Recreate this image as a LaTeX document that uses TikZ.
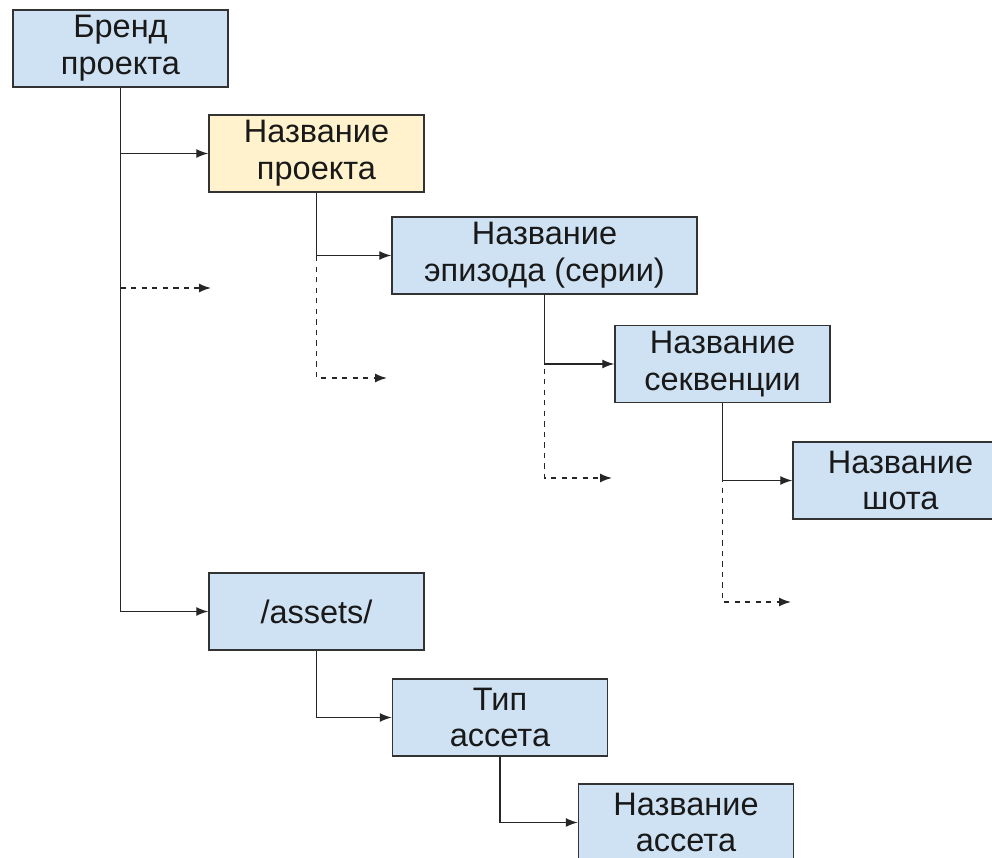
\documentclass[tikz,border=0pt]{standalone}
\usepackage{fontspec}
\setmainfont{Liberation Sans}
\usetikzlibrary{arrows.meta}
\definecolor{boxblue}{HTML}{CFE2F3}
\definecolor{projyellow}{HTML}{FFF2CC}
\definecolor{edge}{HTML}{333333}

\begin{document}
\begin{tikzpicture}[x=0.02cm,y=-0.02cm,
		box/.style={draw=edge,line width=0.85pt,fill=boxblue,minimum width=4.3cm,minimum height=1.54cm,inner sep=0pt,align=center,text=black!90,font=\fontsize{18.5}{21}\selectfont},
		link/.style={line width=0.8pt,draw=black!85,-{Latex[length=2.4mm,width=1.8mm]}},
		dlink/.style={link,dashed}]
		\useasboundingbox (0,0) rectangle (992,858);
		
		\node[box] (brand) at (120.5,48.5) {Бренд\\проекта};
		\node[box,fill=projyellow] (proj) at (316.5,153.5) {Название\\проекта};
		\node[box,minimum width=6.1cm] (ep) at (544.5,255.5) {Название\\эпизода (серии)};
		\node[box] (seq) at (722.5,364) {Название\\секвенции};
		\node[box] (shot) at (900.5,480.5) {Название\\шота};
		\node[box] (assets) at (316.5,611.5) {/assets/};
		\node[box] (type) at (500,717.5) {Тип\\ассета};
		\node[box] (aname) at (686,822.5) {Название\\ассета};
		
		\coordinate (d1) at (211,288);
		\coordinate (d2) at (387,378);
		\coordinate (d3) at (612,478);
		\coordinate (d4) at (791,602);
		
		\draw[dlink] (brand) |- (d1);
		\draw[dlink] (proj) |- (d2);
		\draw[dlink] (ep) |- (d3);
		\draw[dlink] (seq) |- (d4);
		
		\draw[link] (brand) |- (proj);
		\draw[link] (brand) |- (assets);
		\draw[link] (proj) |- (ep);
		\draw[link] (ep) |- (seq);
		\draw[link] (seq) |- (shot);
		\draw[link] (assets) |- (type);
		\draw[link] (type) |- (aname);
		\end{tikzpicture}
\end{document}
